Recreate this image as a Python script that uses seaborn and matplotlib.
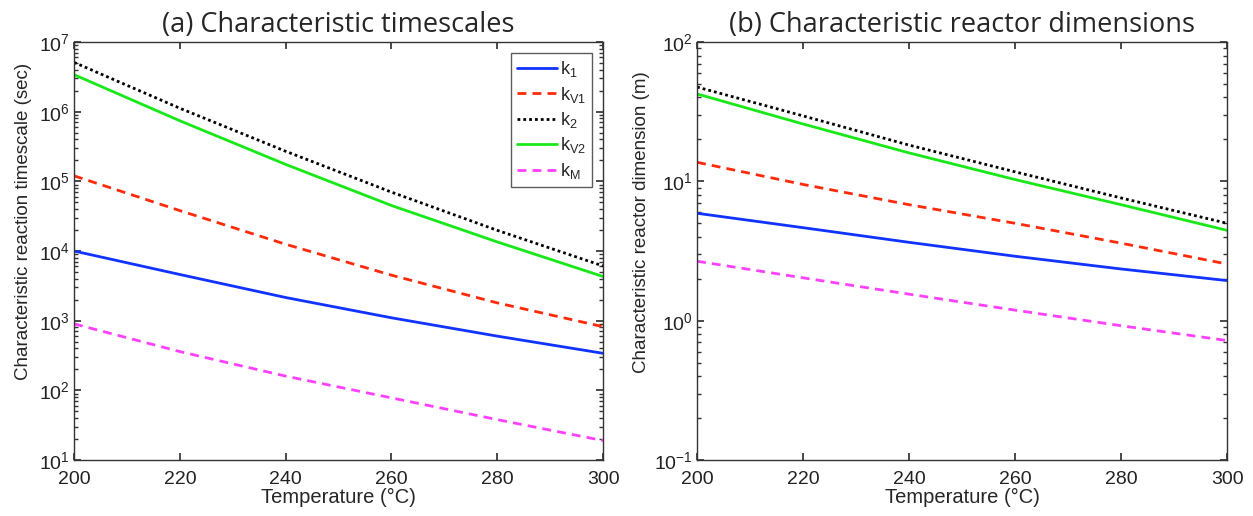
"""Characteristic timescales and reactor dimensions vs temperature."""
import matplotlib.pyplot as plt
import numpy as np
import pandas as pd
import seaborn as sns

# values
temps = [200, 220, 240, 260, 280, 300]
series_names = [r"k$_\mathrm{1}$", r"k$_\mathrm{V1}$", r"k$_\mathrm{2}$",
                r"k$_\mathrm{V2}$", r"k$_\mathrm{M}$"]

time_k1 = [1.0e4, 4.6e3, 2.15e3, 1.1e3, 6.0e2, 3.4e2]
time_kv1 = [1.2e5, 3.8e4, 1.25e4, 4.5e3, 1.8e3, 8.2e2]
time_k2 = [5.1e6, 1.12e6, 2.7e5, 7.0e4, 1.98e4, 6.1e3]
time_kv2 = [3.4e6, 7.4e5, 1.75e5, 4.5e4, 1.35e4, 4.3e3]
time_km = [900, 360, 160, 78, 38, 19]

dim_k1 = [5.9, 4.65, 3.65, 2.9, 2.35, 1.94]
dim_kv1 = [13.7, 9.5, 6.8, 5.0, 3.6, 2.55]
dim_k2 = [47.5, 29.5, 18.2, 11.7, 7.6, 5.0]
dim_kv2 = [42.4, 25.8, 16.0, 10.3, 6.8, 4.45]
dim_km = [2.67, 2.03, 1.55, 1.19, 0.92, 0.72]

COLORS = ["#1033ff", "#ff2a0a", "#000000", "#18e818", "#ff40ff"]
STYLES = ["-", (0, (3.2, 2.2)), (0, (1, 1.1)), "-", (0, (3.2, 2.2))]

sns.set_theme(style="ticks")
plt.rcParams["font.family"] = ["Liberation Sans", "DejaVu Sans"]
plt.rcParams.update({
    "mathtext.fontset": "custom",
    "mathtext.rm": "Liberation Sans",
    "mathtext.it": "Liberation Sans:italic",
    "xtick.direction": "in", "ytick.direction": "in",
    "xtick.top": True, "ytick.right": True,
    "xtick.minor.visible": False,
    "axes.edgecolor": "#333333", "axes.linewidth": 1.0,
    "xtick.color": "#333333", "ytick.color": "#333333",
    "xtick.labelcolor": "#222222", "ytick.labelcolor": "#222222",
    "xtick.major.size": 5, "ytick.major.size": 5, "ytick.minor.size": 3,
    "xtick.major.pad": 8, "ytick.major.pad": 3,
})


def make_df(cols):
    rows = []
    for name, vals in zip(series_names, cols):
        for t, v in zip(temps, vals):
            rows.append({"T": t, "value": v, "series": name})
    return pd.DataFrame(rows)


df_time = make_df([time_k1, time_kv1, time_k2, time_kv2, time_km])
df_dim = make_df([dim_k1, dim_kv1, dim_k2, dim_kv2, dim_km])

fig = plt.figure(figsize=(12.53, 5.16), dpi=100)
ax_a = fig.add_axes([0.0591, 0.1085, 0.4222, 0.8101])
ax_b = fig.add_axes([0.5563, 0.1085, 0.4230, 0.8101])

for ax, df in [(ax_a, df_time), (ax_b, df_dim)]:
    for i, name in enumerate(series_names):
        sub = df[df["series"] == name]
        sns.lineplot(data=sub, x="T", y="value", ax=ax, color=COLORS[i],
                     linestyle=STYLES[i], linewidth=2.0, label=name,
                     legend=False)
    ax.set_yscale("log")
    ax.set_xlim(200, 300)
    ax.set_xticks(np.arange(200, 301, 20))
    ax.tick_params(labelsize=14)
    ax.set_xlabel("Temperature (°C)", fontsize=14.5, labelpad=0)
    for side in ["top", "right"]:
        ax.spines[side].set_visible(True)

ax_a.set_ylim(1e1, 1e7)
ax_b.set_ylim(1e-1, 1e2)
ax_a.set_ylabel("Characteristic reaction timescale (sec)", fontsize=13.5)
ax_b.set_ylabel("Characteristic reactor dimension (m)", fontsize=13.5)
ax_a.yaxis.set_label_coords(-0.079, 0.57)
ax_b.yaxis.set_label_coords(-0.088, 0.57)

ax_a.set_title("(a) Characteristic timescales", fontsize=19.5,
               family=["Open Sans", "DejaVu Sans"], pad=7)
ax_b.set_title("(b) Characteristic reactor dimensions", fontsize=19.5,
               family=["Open Sans", "DejaVu Sans"], pad=7)

leg = ax_a.legend(loc="upper right", fontsize=13, handlelength=2.2,
                  handletextpad=0.15, labelspacing=0.3, borderaxespad=0.6,
                  borderpad=0.35, fancybox=False, frameon=True)
leg.get_frame().set_edgecolor("#333333")
leg.get_frame().set_linewidth(1.0)

fig.savefig("out.png", dpi=100, facecolor="white")
